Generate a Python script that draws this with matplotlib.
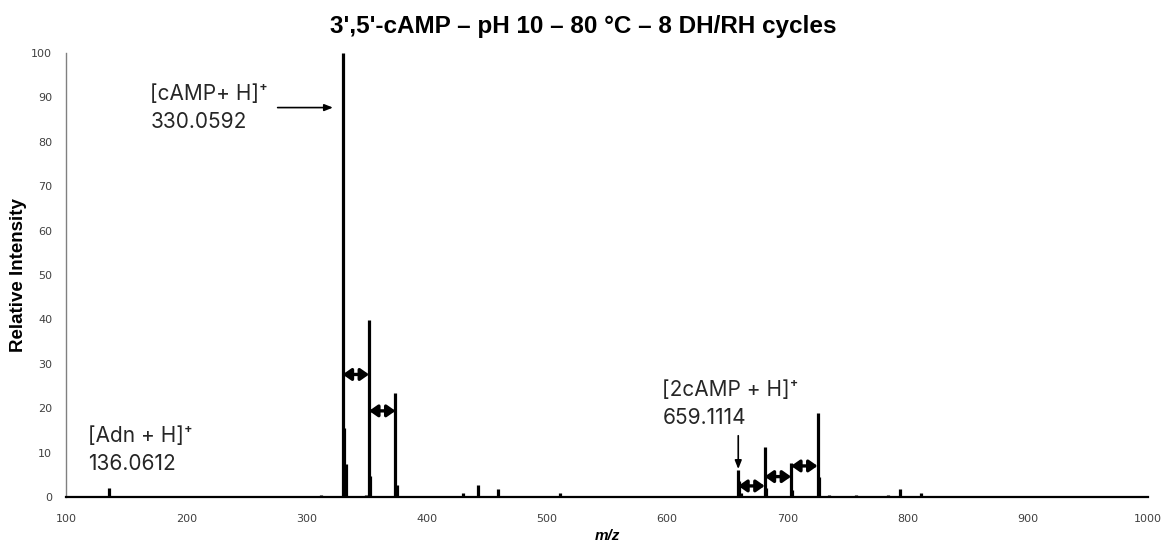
import matplotlib.pyplot as plt

# peak list (m/z, relative intensity)
mz = [136.06, 312.0, 330.06, 331.06, 333.0, 349.5, 352.04, 353.04, 371.0, 374.02, 375.02,
      390.0, 397.0, 430.0, 443.0, 459.0, 472.0, 500.0, 511.0, 527.0,
      659.11, 660.11, 661.1, 681.09, 682.09, 703.08, 704.08, 725.06, 726.06,
      735.0, 748.0, 757.0, 784.0, 794.0, 811.0, 863.0]
intensity = [2.0, 0.5, 100.0, 15.5, 7.5, 0.5, 39.8, 4.8, 0.3, 23.5, 2.8,
             0.3, 0.3, 0.8, 2.6, 1.9, 0.3, 0.2, 0.9, 0.3,
             6.0, 3.5, 1.0, 11.2, 2.0, 7.6, 1.5, 19.0, 4.5,
             0.4, 0.3, 0.5, 0.4, 1.8, 0.9, 0.3]

# double arrows between adduct peaks: (start m/z, end m/z, height)
spacings = [(330.06, 352.04, 27.6), (352.04, 374.02, 19.4),
            (659.11, 681.09, 2.5), (681.09, 703.08, 4.6), (703.08, 725.06, 7.0)]

xticks = list(range(100, 1001, 100))
yticks = list(range(0, 101, 10))

fig = plt.figure(figsize=(11.67, 5.46), dpi=100)
ax = fig.add_axes([0.0566, 0.0897, 0.9272, 0.8133])

ax.vlines(mz, 0, intensity, color='black', lw=2.3)

for a, b, h in spacings:
    ax.annotate('', xy=(b, h), xytext=(a, h),
                arrowprops=dict(arrowstyle='<|-|>,head_length=0.5,head_width=0.35',
                                color='black', lw=2.4, shrinkA=0, shrinkB=0))

# single pointer arrows
ax.annotate('', xy=(322, 87.7), xytext=(276, 87.7),
            arrowprops=dict(arrowstyle='-|>,head_length=0.5,head_width=0.2',
                            color='black', lw=1.2, shrinkA=0, shrinkB=0))
ax.annotate('', xy=(659.11, 6.3), xytext=(659.11, 13.8),
            arrowprops=dict(arrowstyle='-|>,head_length=0.5,head_width=0.2',
                            color='black', lw=1.2, shrinkA=0, shrinkB=0))

lab = dict(fontsize=15, family=['Inter', 'DejaVu Sans'], color='#262626',
           va='center', ha='left', linespacing=1.5)
ax.text(170, 87.6, '[cAMP+ H]⁺\n330.0592', **lab)
ax.text(118, 10.6, '[Adn + H]⁺\n136.0612', **lab)
ax.text(596, 21.0, '[2cAMP + H]⁺\n659.1114', **lab)

ax.set_xlim(100, 1000)
ax.set_ylim(0, 100)
ax.set_xticks(xticks)
ax.set_yticks(yticks)
ax.tick_params(length=0, labelsize=8, labelcolor='#404040')
ax.tick_params(axis='y', pad=10)
ax.tick_params(axis='x', pad=12)
for s in ['top', 'right']:
    ax.spines[s].set_visible(False)
ax.spines['left'].set_color('#808080')
ax.spines['left'].set_linewidth(1)
ax.spines['bottom'].set_linewidth(1.6)

fig.suptitle("3',5'-cAMP – pH 10 – 80 °C – 8 DH/RH cycles", x=0.5, y=0.972,
             fontsize=17.5, fontweight='bold', family='Liberation Sans')
ax.set_xlabel('m/z', fontsize=11, fontweight='bold', style='italic',
              family='Liberation Sans', labelpad=4)
ax.set_ylabel('Relative Intensity', fontsize=13.5, fontweight='bold',
              family='Liberation Sans')
ax.yaxis.set_label_coords(-0.036, 0.5)

fig.savefig('out.png', dpi=100)
